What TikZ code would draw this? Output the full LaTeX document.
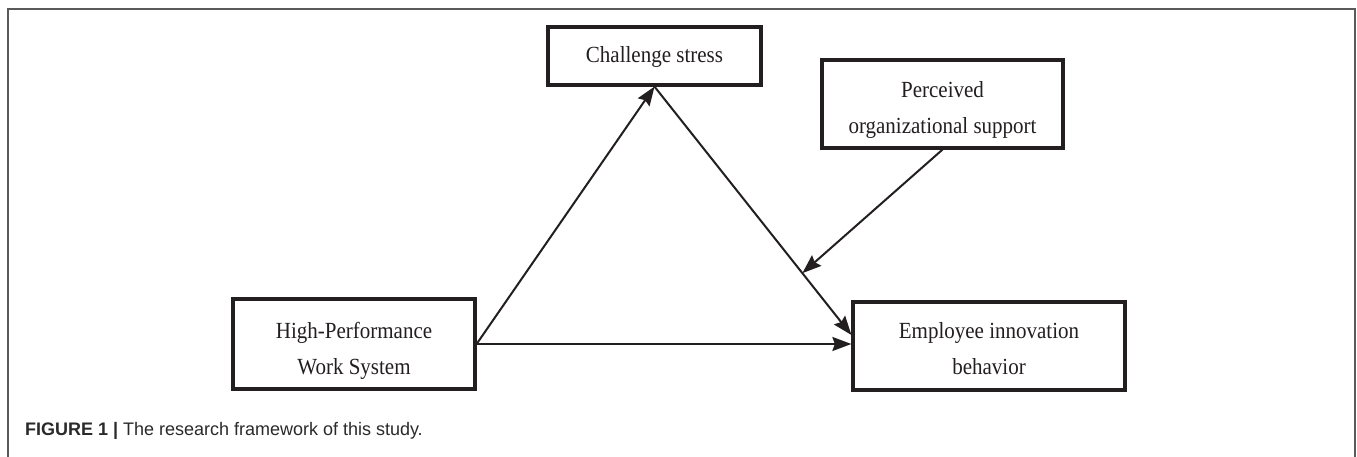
\documentclass[tikz,border=0pt]{standalone}
\usepackage{fontspec}
\setmainfont{Liberation Serif}
\newfontfamily\capfont{Liberation Sans}
\usetikzlibrary{arrows.meta,calc}
\definecolor{ink}{HTML}{231F20}
\definecolor{framegray}{HTML}{5A5A5A}
\definecolor{capgray}{HTML}{2A2A2A}
\newcommand{\tall}[1]{\scalebox{1}[1.1]{#1}}
\tikzset{
  boxnode/.style={draw=ink, line width=3.2pt, rectangle, inner sep=0pt, fill=none},
  txt/.style={inner sep=0pt, align=center, text=ink, font=\fontsize{21}{36}\selectfont},
  conn/.style={draw=ink, line width=2pt, -{Stealth[length=19pt,width=14pt,inset=2.5pt]}},
}
\begin{document}
\begin{tikzpicture}[x=1pt,y=-1pt]
\useasboundingbox (0,0) rectangle (1357,457);
\fill[white] (0,0) rectangle (1357,457);
\begin{scope}
\clip (0,0) rectangle (1357,457);
\draw[framegray, line width=1.5pt] (8,9) rectangle (1355,480);
\end{scope}
% boxes
\node[boxnode, minimum width=213pt, minimum height=58pt] (cs) at (654.5,56) {};
\node[boxnode, minimum width=241pt, minimum height=88pt] (pos) at (942.5,104) {};
\node[boxnode, minimum width=242pt, minimum height=90pt] (hpws) at (354,344) {};
\node[boxnode, minimum width=272pt, minimum height=88pt] (emp) at (989,346) {};
% texts
\node[txt, anchor=base] (cs-t) at (654.5,63) {\tall{Challenge stress}};
\node[txt, anchor=north] (pos-t) at (942.5,81.3) {\tall{Perceived}\\\tall{organizational support}};
\node[txt, anchor=north] (hpws-t) at (354,322.3) {\tall{High-Performance}\\\tall{Work System}};
\node[txt, anchor=north] (emp-t) at (989,322.3) {\tall{Employee innovation}\\\tall{behavior}};
% connectors
\coordinate (empin) at ($(emp.west)+(0,-11)$);
\coordinate (mod) at ($(cs.south)!0.751!(empin)$);
\draw[conn] (hpws.east) -- (cs.south);
\draw[conn] (cs.south) -- (empin);
\draw[conn] (hpws.east) -- (hpws.east -| emp.west);
\draw[conn] (pos.south) -- (mod);
% caption
\node[anchor=base west, inner sep=0pt, text=capgray] (cap) at (25,435)
  {\scalebox{1.09}[1.1]{\capfont\fontsize{16.5}{18}\selectfont\textbf{FIGURE 1} \textbf{|} The research framework of this study.}};
\end{tikzpicture}
\end{document}
